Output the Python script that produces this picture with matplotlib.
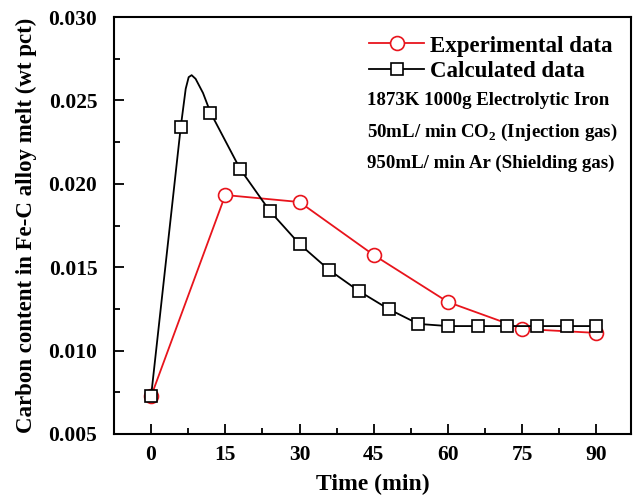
import matplotlib
matplotlib.use("Agg")
import matplotlib.pyplot as plt
from matplotlib.ticker import MultipleLocator

plt.rcParams['font.family'] = 'Liberation Serif'
plt.rcParams['font.weight'] = 'bold'
plt.rcParams['mathtext.fontset'] = 'custom'
plt.rcParams['mathtext.rm'] = 'Liberation Serif:bold'
plt.rcParams['mathtext.bf'] = 'Liberation Serif:bold'

# experimental measurements
exp_time = [0, 15, 30, 45, 60, 75, 90]
exp_carbon = [0.00725, 0.01933, 0.01891, 0.01573, 0.01291, 0.01130, 0.01106]

# calculated curve (smooth line) and its marked points
calc_line_time = [0, 6, 7, 7.6, 8.2, 9, 10.5, 12, 18, 24, 30, 36, 42, 48, 54, 60, 66, 72, 78, 84, 90]
calc_line_carbon = [0.00725, 0.02341, 0.02570, 0.02640, 0.02652, 0.02630, 0.02545, 0.02428,
                    0.02089, 0.01837, 0.01639, 0.01483, 0.01357, 0.01249, 0.01160,
                    0.01147, 0.01147, 0.01147, 0.01147, 0.01147, 0.01147]
calc_time = [0, 6, 12, 18, 24, 30, 36, 42, 48, 54, 60, 66, 72, 78, 84, 90]
calc_carbon = [0.00725, 0.02341, 0.02428, 0.02089, 0.01837, 0.01639, 0.01483,
               0.01357, 0.01249, 0.01160, 0.01147, 0.01147, 0.01147, 0.01147,
               0.01147, 0.01147]

notes = ["1873K 1000g Electrolytic Iron",
         "50mL/ min CO$_{2}$ (Injection gas)",
         "950mL/ min Ar (Shielding gas)"]

fig = plt.figure(figsize=(6.33, 5.04), dpi=100)
ax = fig.add_axes([0.180, 0.139, 0.817, 0.827])

red = '#e8141c'
ax.plot(exp_time, exp_carbon, color=red, lw=1.3, marker='o', ms=10,
        mfc='white', mec=red, mew=1.2, zorder=2)
ax.plot(calc_line_time, calc_line_carbon, color='black', lw=1.3, zorder=3)
ax.plot(calc_time, calc_carbon, ls='none', marker='s', ms=9,
        mfc='white', mec='black', mew=1.2, zorder=4)

# legend handles
h1, = ax.plot([], [], color=red, lw=1.3, marker='o', ms=10, mfc='white', mec=red, mew=1.2)
h2, = ax.plot([], [], color='black', lw=1.3, marker='s', ms=9, mfc='white', mec='black', mew=1.2)
ax.legend([h1, h2], ["Experimental data", "Calculated data"], loc='upper left',
          bbox_to_anchor=(0.458, 1.0), frameon=False, fontsize=16.5,
          handlelength=2.4, handletextpad=0.25, labelspacing=0.2, borderaxespad=0.4)

for i, t in enumerate(notes):
    ax.text(0.489, 0.799 - i * 0.075, t, transform=ax.transAxes, fontsize=13.6,
            fontweight='bold', va='center', ha='left')

ax.set_xlim(-7.5, 97)
ax.set_ylim(0.005, 0.030)
ax.xaxis.set_major_locator(MultipleLocator(15))
ax.xaxis.set_minor_locator(MultipleLocator(7.5))
ax.yaxis.set_major_locator(MultipleLocator(0.005))
ax.yaxis.set_minor_locator(MultipleLocator(0.0025))
ax.yaxis.set_major_formatter(matplotlib.ticker.FormatStrFormatter('%.3f'))
ax.tick_params(which='both', direction='in', labelsize=15.5, width=1.3)
ax.tick_params(which='major', length=7)
ax.tick_params(which='minor', length=4)
ax.tick_params(axis='x', pad=8)
ax.tick_params(axis='y', pad=12)
for s in ax.spines.values():
    s.set_linewidth(1.5)

ax.set_xlabel("Time (min)", fontsize=17, fontweight='bold', labelpad=6)
ax.set_ylabel("Carbon content in Fe-C alloy melt (wt pct)", fontsize=16.5,
              fontweight='bold', labelpad=8)

fig.savefig("out.png", dpi=100)
